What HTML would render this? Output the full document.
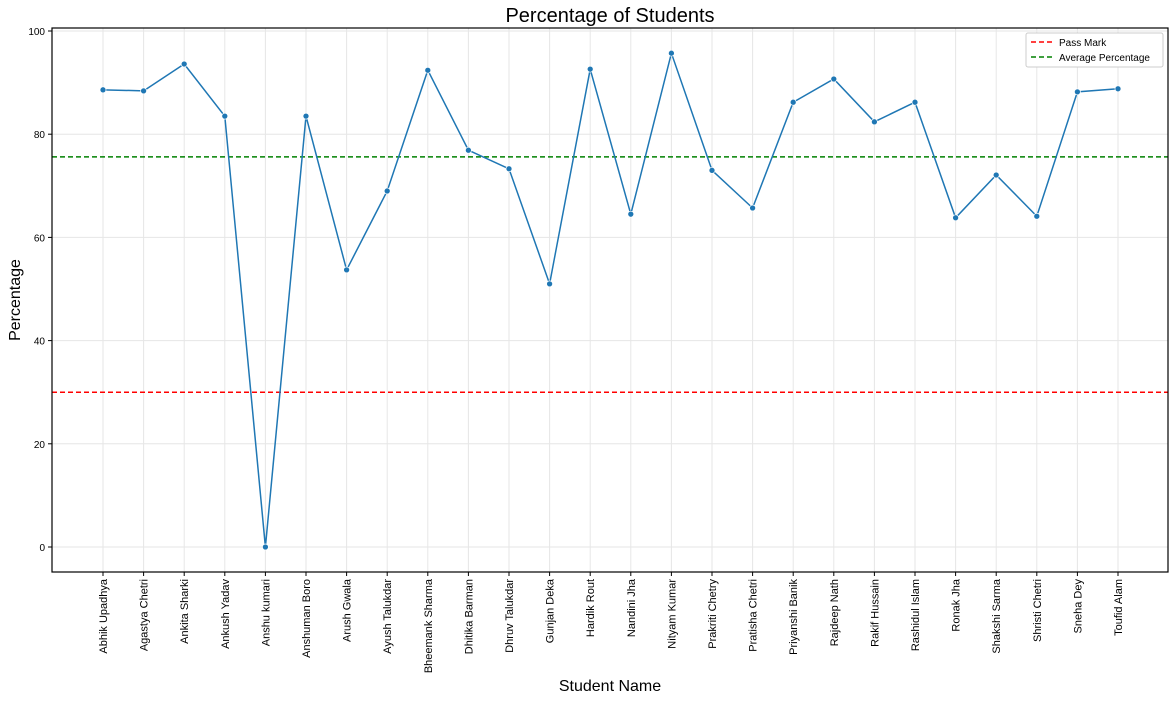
<!DOCTYPE html>
<html><head><meta charset="utf-8"><style>
body{margin:0;background:#fff;font-family:"Liberation Sans",sans-serif}
</style></head><body>
<svg id="chart" width="1175" height="700" xmlns="http://www.w3.org/2000/svg" font-family="Liberation Sans, sans-serif">
<text x="610" y="22" font-size="20" text-anchor="middle">Percentage of Students</text>
<g id="grid"></g>
<g id="axes"></g>
<g id="marks"></g>
<rect x="52" y="28" width="1116" height="544" fill="none" stroke="#000" stroke-width="1.2"/>
<text x="610" y="691" font-size="16" text-anchor="middle">Student Name</text>
<text transform="translate(20,300) rotate(-90)" font-size="16" text-anchor="middle">Percentage</text>
<g>
<rect x="1026" y="33" width="137" height="34" fill="#fff" stroke="#ccc" rx="2"/>
<g><line x1="1031" y1="42" x2="1053" y2="42" stroke="red" stroke-width="1.5" stroke-dasharray="5,3"/><text x="1059" y="46" font-size="10">Pass Mark</text></g>
<g><line x1="1031" y1="57" x2="1053" y2="57" stroke="green" stroke-width="1.5" stroke-dasharray="5,3"/><text x="1059" y="61" font-size="10">Average Percentage</text></g>
</g>
</svg>
<script>
const names=["Abhik Upadhya","Agastya Chetri","Ankita Sharki","Ankush Yadav","Anshu kumari","Anshuman Boro","Arush Gwala","Ayush Talukdar","Bheemank Sharma","Dhitika Barman","Dhruv Talukdar","Gunjan Deka","Hardik Rout","Nandini Jha","Nityam Kumar","Prakriti Chetry","Pratisha Chetri","Priyanshi Banik","Rajdeep Nath","Rakif Hussain","Rashidul Islam","Ronak Jha","Shakshi Sarma","Shristi Chetri","Sneha Dey","Toufid Alam"];
const percentages=[88.6,88.4,93.6,83.5,0,83.5,53.7,69,92.4,76.9,73.3,51,92.6,64.5,95.7,73,65.7,86.2,90.7,82.4,86.2,63.8,72.1,64.1,88.2,88.8];
const yTicks=[0,20,40,60,80,100];
const passMark=30;
const averagePct=75.6;
const NS="http://www.w3.org/2000/svg";
const x=i=>103+i*(1118-103)/(names.length-1);
const y=v=>547-v*5.16;
function mk(t,a,p){const e=document.createElementNS(NS,t);for(const k in a)e.setAttribute(k,a[k]);p.appendChild(e);return e;}
const grid=document.getElementById('grid'),axes=document.getElementById('axes'),marks=document.getElementById('marks');
yTicks.forEach(t=>{
 const g=mk('line',{x1:52,x2:1168,y1:y(t),y2:y(t),stroke:'#e6e6e6'},grid);
 
 
 mk('line',{x1:48,x2:52,y1:y(t),y2:y(t),stroke:'#000'},axes);
 const tx=mk('text',{x:45,y:y(t)+4,'font-size':10,'text-anchor':'end'},axes);
 tx.textContent=t;
 
 
});
names.forEach((n,i)=>{
 const g=mk('line',{x1:x(i),x2:x(i),y1:28,y2:572,stroke:'#e6e6e6'},grid);
 
 
 mk('line',{x1:x(i),x2:x(i),y1:572,y2:576,stroke:'#000'},axes);
 const tx=mk('text',{transform:`translate(${x(i)+4},579) rotate(-90)`,'font-size':11,'text-anchor':'end'},axes);
 tx.textContent=n;
 
 
});
const pl=mk('line',{x1:52,x2:1168,y1:y(passMark),y2:y(passMark),stroke:'red','stroke-width':1.5,'stroke-dasharray':'5,3'},marks);


const al=mk('line',{x1:52,x2:1168,y1:y(averagePct),y2:y(averagePct),stroke:'green','stroke-width':1.5,'stroke-dasharray':'5,3'},marks);


const line=mk('polyline',{points:percentages.map((v,i)=>x(i)+','+y(v)).join(' '),fill:'none',stroke:'#1f77b4','stroke-width':1.5},marks);


percentages.forEach((v,i)=>{
 const c=mk('circle',{cx:x(i),cy:y(v),r:3,fill:'#1f77b4',stroke:'#fff','stroke-width':0.7},marks);
 
 
});
</script>
</body></html>
